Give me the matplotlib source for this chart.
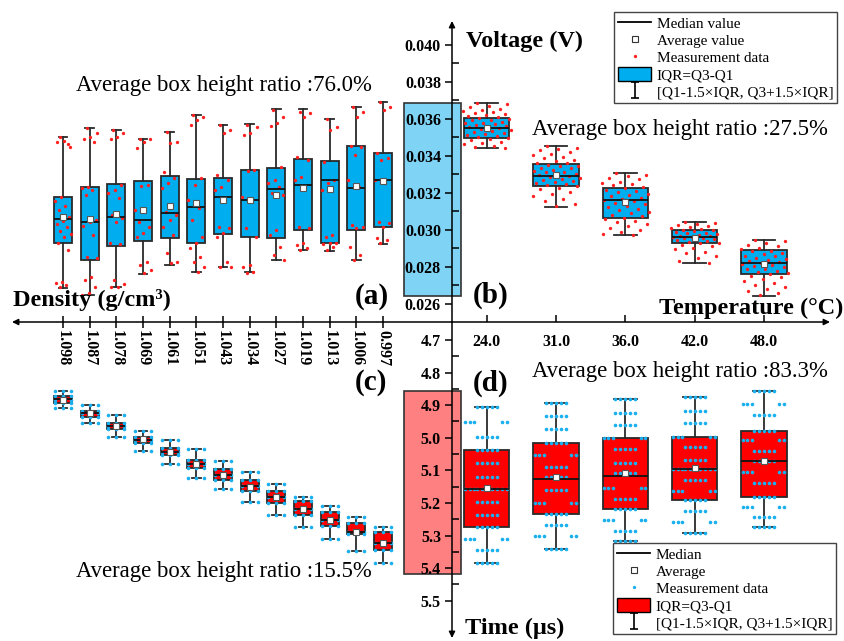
import numpy as np
import matplotlib
matplotlib.use("Agg")
import matplotlib.pyplot as plt
from matplotlib.lines import Line2D
from matplotlib.patches import Patch, Rectangle
from matplotlib.path import Path
from matplotlib.ticker import FixedLocator

plt.rcParams['font.family'] = ['Liberation Serif', 'DejaVu Serif']

# ---------------- data ----------------
density_labels = ['1.098', '1.087', '1.078', '1.069', '1.061', '1.051', '1.043',
                  '1.034', '1.027', '1.019', '1.013', '1.006', '0.997']
temp_labels = ['24.0', '31.0', '36.0', '42.0', '48.0']

# (a) voltage vs density, mV
a_whi = [35.01, 35.53, 35.41, 34.92, 35.30, 36.23, 35.68, 35.71, 36.52, 36.54, 36.00, 36.63, 36.90]
a_q3 = [31.80, 32.31, 32.47, 32.63, 32.90, 32.74, 32.81, 33.24, 33.35, 33.84, 33.73, 34.54, 34.16]
a_med = [30.58, 30.42, 30.69, 30.52, 30.90, 31.24, 31.80, 31.62, 32.20, 32.45, 32.69, 32.29, 32.70]
a_mean = [30.70, 30.58, 30.85, 31.07, 31.31, 31.46, 31.62, 31.61, 31.88, 32.29, 32.20, 32.39, 32.65]
a_q1 = [29.28, 28.38, 29.15, 29.42, 29.57, 29.28, 29.77, 29.61, 29.57, 30.00, 29.31, 30.00, 30.15]
a_wlo = [26.85, 26.49, 26.90, 27.62, 28.11, 27.75, 27.98, 27.71, 28.38, 28.92, 28.88, 28.38, 29.26]
a_pts = [
    [35.01, 34.50, 34.83, 34.76, 34.65, 31.80, 31.59, 31.30, 31.08, 30.72, 30.50, 30.31, 30.18,
     29.96, 29.78, 29.64, 29.28, 28.92, 27.21, 27.12, 27.03, 26.90],
    [35.53, 35.23, 35.01, 34.90, 34.77, 32.31, 32.25, 32.16, 31.89, 30.54, 30.45, 30.23, 29.73,
     28.56, 28.47, 27.48, 27.30, 26.94, 26.58, 26.49],
    [35.41, 35.23, 35.05, 34.90, 32.43, 32.16, 31.98, 31.71, 30.81, 30.63, 30.45, 29.28, 29.24,
     27.30, 27.08, 26.94, 26.90],
    [34.92, 34.90, 34.77, 34.41, 32.43, 32.38, 31.08, 31.05, 30.45, 30.18, 29.82, 29.64, 28.29,
     28.11, 27.84, 27.66],
    [35.28, 34.77, 34.72, 33.15, 32.79, 32.52, 32.25, 31.35, 30.99, 30.81, 30.54, 30.18, 29.73,
     28.74, 28.29, 28.23],
    [36.22, 36.13, 35.95, 35.68, 32.79, 32.43, 31.62, 31.17, 30.54, 29.64, 29.28, 29.01, 28.56,
     28.29, 28.02, 27.75],
    [35.68, 35.41, 35.23, 32.97, 32.70, 32.34, 32.16, 31.62, 30.18, 30.09, 29.82, 29.64, 28.29,
     28.02, 27.98],
    [35.68, 35.59, 35.23, 35.14, 33.24, 33.21, 31.80, 31.62, 30.09, 29.64, 28.11, 28.02, 27.75, 27.69],
    [36.49, 36.13, 35.77, 35.62, 33.42, 32.70, 32.52, 32.34, 31.98, 31.89, 30.00, 29.73, 29.10,
     28.65, 28.38],
    [36.40, 36.31, 36.13, 33.96, 33.78, 32.88, 32.70, 32.34, 30.18, 30.09, 29.28, 29.19, 29.01, 28.92],
    [35.98, 35.59, 35.41, 33.69, 32.70, 32.52, 32.16, 29.73, 29.64, 29.32, 29.28, 29.24, 29.10, 28.92],
    [36.63, 36.40, 36.13, 34.54, 34.50, 34.05, 32.70, 32.34, 30.27, 30.18, 30.09, 29.10, 28.65, 28.38],
    [36.90, 36.67, 36.49, 34.14, 33.87, 33.78, 32.70, 32.52, 30.45, 30.36, 30.18, 29.55, 29.46, 29.28],
]

# (b) voltage vs temperature, mV
b_whi = [36.87, 34.54, 33.07, 30.43, 29.48]
b_q3 = [36.03, 33.58, 32.29, 30.02, 28.90]
b_med = [35.54, 32.90, 31.61, 29.64, 28.23]
b_mean = [35.53, 32.99, 31.51, 29.55, 28.18]
b_q1 = [34.96, 32.38, 30.63, 29.28, 27.62]
b_wlo = [34.41, 31.26, 29.71, 28.22, 26.45]
b_pts = [
    [36.87, 36.79, 36.70, 36.66, 36.55, 36.50, 36.44, 36.37, 36.33, 36.26, 36.20, 36.15, 36.10,
     36.06, 36.01, 35.95, 35.92, 35.86, 35.81, 35.76, 35.71, 35.68, 35.63, 35.58, 35.55, 35.50,
     35.46, 35.41, 35.37, 35.31, 35.26, 35.21, 35.14, 35.09, 35.04, 34.98, 34.92, 34.85, 34.77,
     34.69, 34.63, 34.54, 34.47, 34.43],
    [34.54, 34.44, 34.36, 34.31, 34.20, 34.11, 34.04, 33.93, 33.88, 33.79, 33.73, 33.64, 33.60,
     33.53, 33.48, 33.44, 33.37, 33.33, 33.26, 33.20, 33.16, 33.11, 33.05, 33.02, 32.95, 32.91,
     32.86, 32.82, 32.77, 32.71, 32.64, 32.59, 32.53, 32.47, 32.42, 32.36, 32.29, 32.22, 32.08,
     31.97, 31.83, 31.70, 31.57, 31.43, 31.28],
    [33.07, 32.97, 32.91, 32.80, 32.73, 32.62, 32.56, 32.46, 32.41, 32.32, 32.27, 32.17, 32.12,
     32.03, 31.97, 31.88, 31.83, 31.74, 31.69, 31.61, 31.56, 31.47, 31.42, 31.32, 31.26, 31.16,
     31.09, 30.99, 30.93, 30.83, 30.77, 30.67, 30.61, 30.50, 30.43, 30.31, 30.23, 30.10, 30.02,
     29.89, 29.81, 29.72],
    [30.43, 30.38, 30.30, 30.26, 30.19, 30.16, 30.09, 30.07, 30.01, 29.99, 29.93, 29.91, 29.85,
     29.83, 29.77, 29.75, 29.69, 29.68, 29.63, 29.62, 29.57, 29.55, 29.51, 29.47, 29.45, 29.39,
     29.37, 29.31, 29.29, 29.21, 29.15, 29.04, 28.96, 28.83, 28.73, 28.59, 28.49, 28.35, 28.24],
    [29.48, 29.39, 29.32, 29.21, 29.15, 29.05, 28.99, 28.89, 28.84, 28.75, 28.70, 28.61, 28.57,
     28.49, 28.45, 28.37, 28.33, 28.25, 28.22, 28.15, 28.11, 28.03, 27.99, 27.91, 27.87, 27.79,
     27.75, 27.67, 27.63, 27.54, 27.47, 27.35, 27.26, 27.13, 27.04, 26.91, 26.82, 26.69, 26.61, 26.49],
]

# (c) time vs density, us
c_whi = [4.856, 4.899, 4.931, 4.978, 5.007, 5.034, 5.072, 5.106, 5.141, 5.181, 5.210, 5.242, 5.273]
c_q3 = [4.873, 4.917, 4.956, 4.997, 5.031, 5.068, 5.097, 5.129, 5.163, 5.193, 5.227, 5.260, 5.290]
c_med = [4.882, 4.925, 4.964, 5.007, 5.044, 5.081, 5.114, 5.148, 5.183, 5.219, 5.252, 5.288, 5.324]
c_mean = [4.884, 4.925, 4.964, 5.005, 5.044, 5.081, 5.114, 5.150, 5.181, 5.219, 5.252, 5.288, 5.322]
c_q1 = [4.893, 4.936, 4.974, 5.017, 5.054, 5.092, 5.129, 5.163, 5.200, 5.236, 5.270, 5.295, 5.344]
c_wlo = [4.909, 4.954, 4.997, 5.040, 5.080, 5.122, 5.158, 5.196, 5.237, 5.275, 5.310, 5.346, 5.383]
c_pts = [
    [4.856, 4.873, 4.883, 4.893, 4.909],
    [4.899, 4.917, 4.925, 4.936, 4.954],
    [4.931, 4.956, 4.964, 4.974, 4.997],
    [4.978, 4.997, 5.006, 5.017, 5.040],
    [5.007, 5.031, 5.044, 5.054, 5.080],
    [5.034, 5.068, 5.081, 5.092, 5.122],
    [5.072, 5.097, 5.114, 5.129, 5.158],
    [5.106, 5.129, 5.149, 5.163, 5.196],
    [5.141, 5.163, 5.182, 5.200, 5.237],
    [5.181, 5.193, 5.219, 5.236, 5.275],
    [5.210, 5.227, 5.252, 5.270, 5.310],
    [5.242, 5.260, 5.288, 5.295, 5.346],
    [5.273, 5.290, 5.323, 5.344, 5.383],
]

# (d) time vs temperature, us
d_whi = [4.905, 4.892, 4.881, 4.874, 4.856]
d_q3 = [5.038, 5.015, 5.002, 4.999, 4.980]
d_med = [5.157, 5.127, 5.118, 5.096, 5.072]
d_mean = [5.153, 5.121, 5.109, 5.092, 5.071]
d_q1 = [5.275, 5.234, 5.219, 5.192, 5.181]
d_wlo = [5.383, 5.342, 5.318, 5.291, 5.274]
d_rows = [
    [4.905, 4.997, 5.038, 5.078, 5.121, 5.157, 5.196, 5.237, 5.273, 5.344, 5.383],
    [4.892, 4.932, 4.974, 5.015, 5.091, 5.121, 5.160, 5.234, 5.268, 5.342],
    [4.881, 4.925, 4.962, 5.035, 5.076, 5.109, 5.187, 5.219, 5.285, 5.318],
    [4.874, 4.918, 4.956, 5.029, 5.069, 5.097, 5.129, 5.191, 5.225, 5.291],
    [4.856, 4.931, 4.979, 5.042, 5.072, 5.140, 5.181, 5.243, 5.274],
]
d_edge_rows = [
    [4.953, 5.157, 5.310],
    [5.053, 5.199, 5.301],
    [5.002, 5.154, 5.252],
    [4.999, 5.097, 5.162, 5.257],
    [4.897, 5.007, 5.105, 5.211],
]

# ---------------- colours ----------------
BLUE = '#00AEEF'
RED = '#FF0000'
DOT_RED = '#FF1F1F'
DOT_BLUE = '#1AAFEF'
EDGE = '#2a2a2a'

W, H = 845, 641
fig = plt.figure(figsize=(W / 100, H / 100), dpi=100)


def px_box(x0, y0, x1, y1):
    return [x0 / W, 1 - y1 / H, (x1 - x0) / W, (y1 - y0) / H]


ax_a = fig.add_axes(px_box(0, 23, 452, 322))
ax_b = fig.add_axes(px_box(452, 23, 845, 322))
ax_c = fig.add_axes(px_box(0, 322, 452, 636))
ax_d = fig.add_axes(px_box(452, 322, 845, 636))

for ax in (ax_a, ax_b, ax_c, ax_d):
    ax.set_facecolor('none')
    for s in ax.spines.values():
        s.set_visible(False)

ax_a.set_ylim(25.027, 41.189)
ax_b.set_ylim(25.027, 41.189)
ax_c.set_ylim(5.608, 4.645)
ax_d.set_ylim(5.608, 4.645)
ax_a.set_xlim(-2.362, 14.586)
ax_c.set_xlim(-2.362, 14.586)
ax_b.set_xlim(-0.5, 5.168)
ax_d.set_xlim(-0.5, 5.168)


def make_stats(whi, q3, med, mean, q1, wlo):
    return [dict(whishi=h, q3=u, med=m, mean=mu, q1=l, whislo=w, fliers=[])
            for h, u, m, mu, l, w in zip(whi, q3, med, mean, q1, wlo)]


def draw_boxes(ax, st, pos, width, fc):
    ax.bxp(st, positions=pos, widths=width, patch_artist=True, showmeans=True,
           showfliers=False, zorder=2,
           boxprops=dict(facecolor=fc, edgecolor=EDGE, linewidth=1.3),
           medianprops=dict(color='#111111', linewidth=1.3, zorder=4),
           whiskerprops=dict(color=EDGE, linewidth=1.3),
           capprops=dict(color=EDGE, linewidth=1.3),
           meanprops=dict(marker='s', markerfacecolor='white', markeredgecolor='#555555',
                          markersize=4.5, markeredgewidth=0.8, zorder=5))


def jitter(n, width):
    return ((np.arange(n) * 0.618034 + 0.31) % 1 - 0.5) * width


pos_a = np.arange(len(density_labels))
pos_b = np.arange(len(temp_labels))

# (a)
draw_boxes(ax_a, make_stats(a_whi, a_q3, a_med, a_mean, a_q1, a_wlo), pos_a, 0.67, BLUE)
for i, pts in enumerate(a_pts):
    ax_a.plot(pos_a[i] + jitter(len(pts), 0.62), pts, 'o', color=DOT_RED, ms=2.4, mew=0, zorder=3)

# (b)
draw_boxes(ax_b, make_stats(b_whi, b_q3, b_med, b_mean, b_q1, b_wlo), pos_b, 0.65, BLUE)
for i, pts in enumerate(b_pts):
    ax_b.plot(pos_b[i] + jitter(len(pts), 0.70), pts, 'o', color=DOT_RED, ms=2.4, mew=0, zorder=3)
ax_b.add_patch(Rectangle((-1.19, min(b_wlo)), 0.82, max(b_whi) - min(b_wlo),
                         facecolor='#7FD3F5', edgecolor='#333333', lw=1.2,
                         clip_on=False, zorder=0.5))

# (c)
draw_boxes(ax_c, make_stats(c_whi, c_q3, c_med, c_mean, c_q1, c_wlo), pos_a, 0.67, RED)
for i, lv in enumerate(c_pts):
    for v in lv:
        ax_c.plot(pos_a[i] + np.array([-0.3, 0.0, 0.3]), [v] * 3, 'o', color=DOT_BLUE,
                  ms=2.6, mew=0, zorder=3)

# (d)
draw_boxes(ax_d, make_stats(d_whi, d_q3, d_med, d_mean, d_q1, d_wlo), pos_b, 0.65, RED)
centre_off = np.arange(-2, 3) * 0.072
edge_off = np.array([-0.31, -0.245, -0.18, 0.22, 0.29])
for i in range(len(temp_labels)):
    for v in d_rows[i]:
        ax_d.plot(pos_b[i] + centre_off, [v] * 5, 'o', color=DOT_BLUE, ms=2.6, mew=0, zorder=3)
    for v in d_edge_rows[i]:
        ax_d.plot(pos_b[i] + edge_off, [v] * 5, 'o', color=DOT_BLUE, ms=2.6, mew=0, zorder=3)
ax_d.add_patch(Rectangle((-1.19, min(d_whi)), 0.82, max(d_wlo) - min(d_whi) + 0.035,
                         facecolor='#FF8080', edgecolor='#333333', lw=1.2,
                         clip_on=False, zorder=0.5))

# ---------------- ticks ----------------
tick_font = dict(fontsize=11.5, fontweight='bold')

ax_a.set_xticks(pos_a, density_labels, rotation=-90, **tick_font)
ax_a.tick_params(axis='x', direction='inout', length=8, width=1.1, pad=2)
ax_a.set_yticks([])

ax_b.set_xticks(pos_b, temp_labels, **tick_font)
ax_b.tick_params(axis='x', direction='in', length=5, width=1.1, pad=9)
v_major = np.arange(26, 41, 2)
ax_b.yaxis.set_major_locator(FixedLocator(v_major))
ax_b.yaxis.set_minor_locator(FixedLocator(np.arange(27, 41, 2)))
ax_b.set_yticklabels([f'{v / 1000:.3f}' for v in v_major], **tick_font)
ax_b.tick_params(axis='y', which='major', direction='out', length=5, width=1.1, pad=3)
ax_b.tick_params(axis='y', which='minor', direction='in', length=5, width=1.1)

ax_c.set_xticks([])
ax_c.set_yticks([])

ax_d.set_xticks([])
t_major = np.round(np.arange(4.7, 5.51, 0.1), 1)
ax_d.yaxis.set_major_locator(FixedLocator(t_major))
ax_d.yaxis.set_minor_locator(FixedLocator(np.round(np.arange(4.75, 5.5, 0.1), 2)))
ax_d.set_yticklabels([f'{v:.1f}' for v in t_major], **tick_font)
ax_d.tick_params(axis='y', which='major', direction='out', length=5, width=1.1, pad=3)
ax_d.tick_params(axis='y', which='minor', direction='in', length=5, width=1.1)

# ---------------- overlay: axis arrows and texts ----------------
ov = fig.add_axes([0, 0, 1, 1])
ov.set_xlim(0, W)
ov.set_ylim(H, 0)
ov.axis('off')

arrow = dict(arrowstyle='-|>', color='black', lw=1.1, mutation_scale=9,
             shrinkA=0, shrinkB=0)
ov.annotate('', xy=(12, 322), xytext=(452, 322), arrowprops=arrow)
ov.annotate('', xy=(830, 322), xytext=(452, 322), arrowprops=arrow)
ov.annotate('', xy=(452, 21), xytext=(452, 322), arrowprops=arrow)
ov.annotate('', xy=(452, 638), xytext=(452, 322), arrowprops=arrow)

ratio_font = dict(fontsize=16.4, va='center', ha='left')
ov.text(76, 85, 'Average box height ratio :76.0%', **ratio_font)
ov.text(532, 130, 'Average box height ratio :27.5%', **ratio_font)
ov.text(532, 372, 'Average box height ratio :83.3%', **ratio_font)
ov.text(76, 572, 'Average box height ratio :15.5%', **ratio_font)

tag_font = dict(fontsize=21, fontweight='bold', va='center', ha='left')
ov.text(355, 296, '(a)', **tag_font)
ov.text(473, 295, '(b)', **tag_font)
ov.text(355, 383, '(c)', **tag_font)
ov.text(473, 383, '(d)', **tag_font)

label_font = dict(fontsize=17.5, fontweight='bold', va='center')
ov.text(466, 41, 'Voltage (V)', ha='left', **label_font)
ov.text(13, 300, 'Density (g/cm³)', ha='left', **label_font)
ov.text(843, 308, 'Temperature (°C)', ha='right', **label_font)
ov.text(465, 628, 'Time (μs)', ha='left', **label_font)

# ---------------- legends ----------------
ibeam = Path([(-0.5, 1), (0.5, 1), (0, 1), (0, -1), (-0.5, -1), (0.5, -1)],
             [Path.MOVETO, Path.LINETO, Path.MOVETO, Path.LINETO, Path.MOVETO, Path.LINETO])


def legend_handles(fc, dot):
    return [Line2D([], [], color='black', lw=1.3),
            Line2D([], [], ls='none', marker='s', mfc='white', mec='#333333', ms=4.5, mew=0.8),
            Line2D([], [], ls='none', marker='o', color=dot, ms=2.4, mew=0),
            Patch(facecolor=fc, edgecolor='black', lw=1.0),
            Line2D([], [], ls='none', marker=ibeam, mfc='none', mec='black', ms=12, mew=1.2)]


leg_kw = dict(loc='upper left', fontsize=11, frameon=True, fancybox=False, edgecolor='#444444',
              framealpha=1, handlelength=2.2, handleheight=1.05, handletextpad=0.35,
              labelspacing=0.12, borderpad=0.25, borderaxespad=0)
lg1 = fig.legend(legend_handles(BLUE, DOT_RED),
                 ['Median value', 'Average value', 'Measurement data', 'IQR=Q3-Q1',
                  '[Q1-1.5×IQR, Q3+1.5×IQR]'],
                 bbox_to_anchor=(614 / W, 1 - 12 / H), **leg_kw)
lg1.get_frame().set_linewidth(1.0)
lg2 = fig.legend(legend_handles(RED, DOT_BLUE),
                 ['Median', 'Average', 'Measurement data', 'IQR=Q3-Q1',
                  '[Q1-1.5×IQR, Q3+1.5×IQR]'],
                 bbox_to_anchor=(613 / W, 1 - 543 / H), **leg_kw)
lg2.get_frame().set_linewidth(1.0)

fig.savefig('out.png', dpi=100)
